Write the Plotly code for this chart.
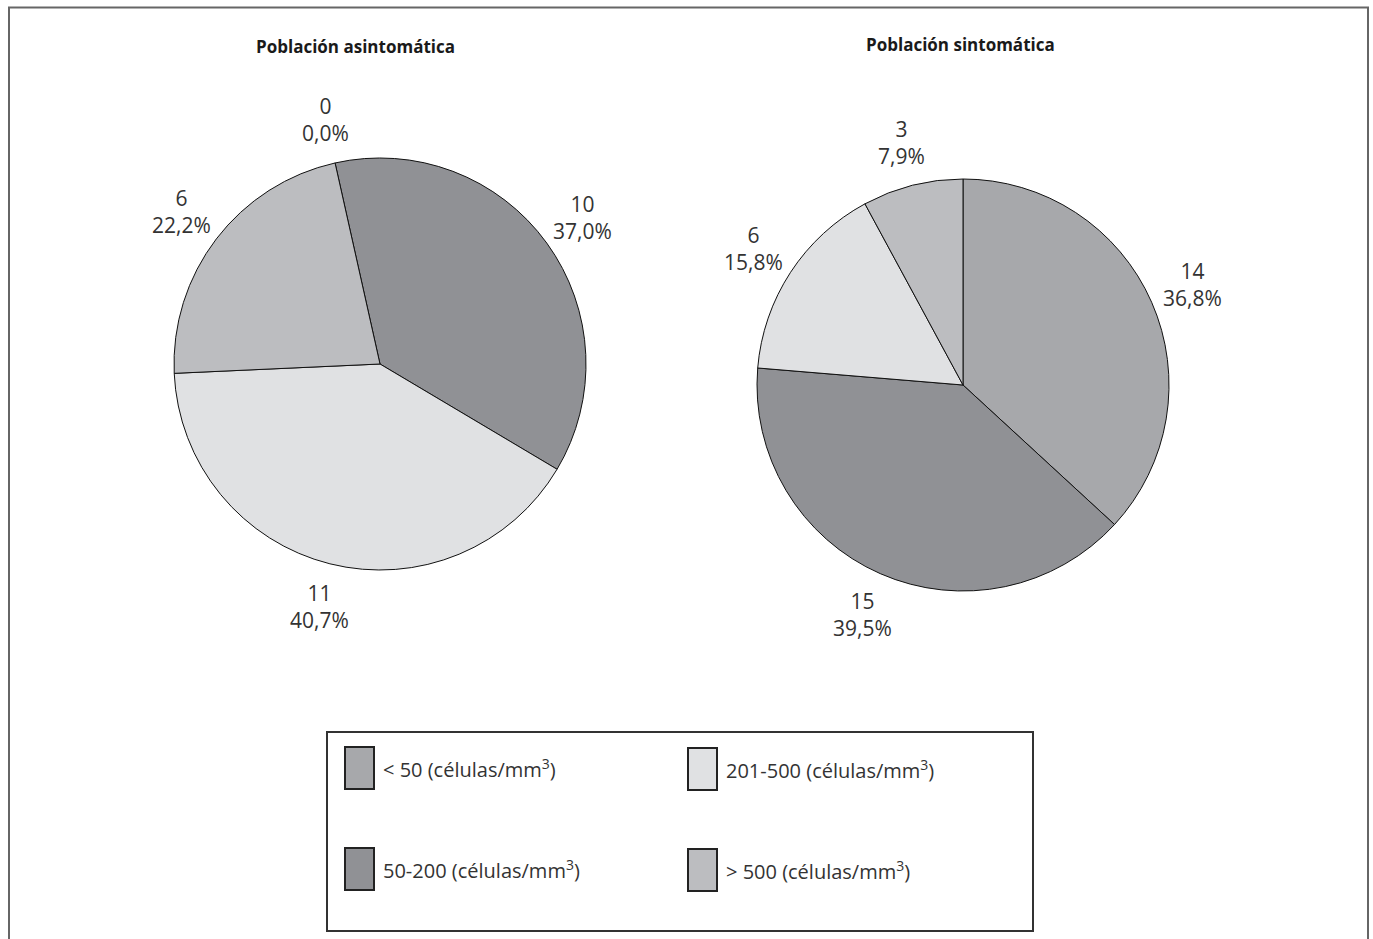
import math
import plotly.graph_objects as go

# Categories (CD4 count ranges) and their fill colours
categories = ["< 50", "50-200", "201-500", "> 500"]
colors = ["#a7a8ab", "#909195", "#e0e1e3", "#bcbdc0"]
unit = " (células/mm<sup>3</sup>)"

# Patient counts per category
asintomatica = [0, 10, 11, 6]
sintomatica = [14, 15, 6, 3]

titles = ["Población asintomática", "Población sintomática"]

W, H = 1373, 939

# Pie geometry in pixels: centre x, centre y, radius, start rotation (deg)
pies = [
    dict(values=asintomatica, cx=380, cy=364, r=206, rotation=-12.6, title=titles[0], tx=355, ty=46),
    dict(values=sintomatica, cx=963, cy=385, r=206, rotation=0, title=titles[1], tx=960, ty=45),
]

LABEL_FONT = dict(family="Open Sans", size=21, color="#333333")

fig = go.Figure()
annotations = []


def add_text(x, y, text, font, xanchor="center"):
    annotations.append(dict(
        x=x / W, y=1 - y / H, xref="paper", yref="paper",
        text=text, showarrow=False,
        xanchor=xanchor, yanchor="middle", align="center",
        font=font, borderpad=0,
    ))


for p in pies:
    vals = p["values"]
    total = sum(vals)
    fig.add_trace(go.Pie(
        labels=categories,
        values=vals,
        sort=False,
        direction="clockwise",
        rotation=p["rotation"],
        marker=dict(colors=colors, line=dict(color="#111111", width=1)),
        textinfo="none",
        textposition="none",
        hoverinfo="label+value+percent",
        showlegend=False,
        domain=dict(
            x=[(p["cx"] - p["r"]) / W, (p["cx"] + p["r"]) / W],
            y=[1 - (p["cy"] + p["r"]) / H, 1 - (p["cy"] - p["r"]) / H],
        ),
    ))

    # Outside labels: count and percentage, placed along each slice's mid-angle
    start = p["rotation"]
    for v in vals:
        span = 360.0 * v / total
        mid = math.radians(start + span / 2)
        start += span
        dist = p["r"] * 1.215
        x = p["cx"] + dist * math.sin(mid)
        y = p["cy"] - dist * math.cos(mid)
        pct = f"{100 * v / total:.1f}".replace(".", ",")
        add_text(x, y, f"{v}<br>{pct}%", LABEL_FONT)

    add_text(p["tx"], p["ty"], f"<b>{p['title']}</b>",
             dict(family="Open Sans", size=17, color="#1a1a1a"))

shapes = []

# Outer frame
shapes.append(dict(type="rect", xref="paper", yref="paper",
                   x0=9 / W, x1=1368 / W, y0=1 - 950 / H, y1=1 - 7.5 / H,
                   line=dict(color="#666666", width=2), fillcolor="rgba(0,0,0,0)"))

# Legend box
shapes.append(dict(type="rect", xref="paper", yref="paper",
                   x0=327 / W, x1=1033 / W, y0=1 - 931 / H, y1=1 - 732 / H,
                   line=dict(color="#333333", width=2), fillcolor="rgba(0,0,0,0)"))

# Legend entries laid out in two columns
legend_cells = [(345, 747), (345, 848), (688, 748), (688, 849)]
sw_w, sw_h = 29, 42
for idx, (lx, ly) in enumerate(legend_cells):
    shapes.append(dict(type="rect", xref="paper", yref="paper",
                       x0=lx / W, x1=(lx + sw_w) / W,
                       y0=1 - (ly + sw_h) / H, y1=1 - ly / H,
                       line=dict(color="#222222", width=2), fillcolor=colors[idx]))
    add_text(lx + sw_w + 8, ly + 21, categories[idx] + unit,
             dict(family="Open Sans", size=20, color="#333333"), xanchor="left")

fig.update_layout(
    width=W, height=H,
    margin=dict(l=0, r=0, t=0, b=0),
    paper_bgcolor="white",
    plot_bgcolor="white",
    shapes=shapes,
    annotations=annotations,
    separators=", ",
)

fig.write_html("out.html")
